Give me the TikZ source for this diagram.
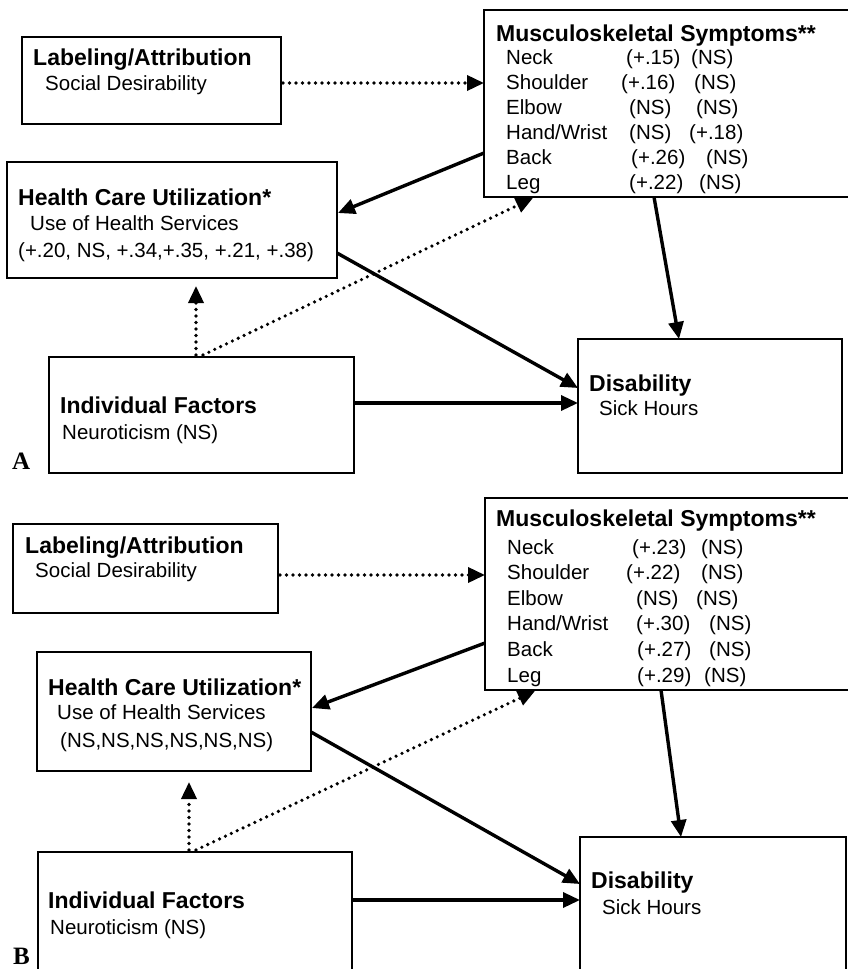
\documentclass[tikz,border=0pt]{standalone}
\usepackage{fontspec}
\setmainfont{Liberation Sans}
\newfontfamily\panelfont{Liberation Serif}
\usetikzlibrary{arrows.meta}
\begin{document}
\begin{tikzpicture}[x=1pt,y=-1pt,
  box/.style={draw, line width=1.6pt, inner sep=0pt, outer sep=0pt},
  ttl/.style={anchor=base west, inner sep=0pt, font=\fontsize{23}{27}\selectfont\bfseries},
  sub/.style={anchor=base west, inner sep=0pt, font=\fontsize{20.5}{24}\selectfont},
  panel/.style={anchor=base west, inner sep=0pt, font=\fontsize{25}{28}\panelfont\bfseries},
  solidarr/.style={line width=3.4pt, -{Triangle[length=17pt,width=15pt]}},
  dotarr/.style={line width=3.6pt, line cap=round, dash pattern=on 0pt off 6.5pt, -{Triangle[length=17pt,width=15pt]}}
]
\useasboundingbox (0,0) rectangle (848,969);
\clip (0,0) rectangle (848,969);

% ================= Panel A =================
\node[box, minimum width=259pt, minimum height=87pt] (labA) at (151.5,80.5) {};
\node[box, minimum width=370pt, minimum height=187pt] (msA) at (669,103.5) {};
\node[box, minimum width=330pt, minimum height=116pt] (hcA) at (172,220) {};
\node[box, minimum width=305pt, minimum height=116pt] (indA) at (201.5,415) {};
\node[box, minimum width=264pt, minimum height=134pt] (disA) at (710,406) {};

\node[ttl] (labAt) at (33,65) {Labeling/Attribution};
\node[sub] (labAs) at (45,90) {Social Desirability};

\node[ttl] (msAt) at (496,41) {Musculoskeletal Symptoms**};
\node[sub] (msA1) at (506,64) {Neck};
\node[sub] (msA2) at (506,89) {Shoulder};
\node[sub] (msA3) at (506,114) {Elbow};
\node[sub] (msA4) at (506,139) {Hand/Wrist};
\node[sub] (msA5) at (506,164) {Back};
\node[sub] (msA6) at (506,189) {Leg};
\node[sub] (msA1b) at (626,64) {(+.15)};
\node[sub] (msA2b) at (621,89) {(+.16)};
\node[sub] (msA3b) at (629,114) {(NS)};
\node[sub] (msA4b) at (629,139) {(NS)};
\node[sub] (msA5b) at (631,164) {(+.26)};
\node[sub] (msA6b) at (629,189) {(+.22)};
\node[sub] (msA1c) at (691,64) {(NS)};
\node[sub] (msA2c) at (694,89) {(NS)};
\node[sub] (msA3c) at (696,114) {(NS)};
\node[sub] (msA4c) at (689,139) {(+.18)};
\node[sub] (msA5c) at (706,164) {(NS)};
\node[sub] (msA6c) at (699,189) {(NS)};

\node[ttl] (hcAt) at (18,205) {Health Care Utilization*};
\node[sub] (hcAs) at (30,230) {Use of Health Services};
\node[sub] (hcAv) at (18,257) {(+.20, NS, +.34,+.35, +.21, +.38)};

\node[ttl] (indAt) at (60,413) {Individual Factors};
\node[sub] (indAs) at (62,439) {Neuroticism (NS)};

\node[ttl] (disAt) at (589,391) {Disability};
\node[sub] (disAs) at (599,415) {Sick Hours};

\node[panel] (pA) at (12,469) {A};

% connector end points, panel A
\coordinate (a1s) at (283,83);   \coordinate (a1e) at (484,83);
\coordinate (a2s) at (484,153);  \coordinate (a2e) at (338,213);
\coordinate (a3s) at (196,355);  \coordinate (a3e) at (196,286);
\coordinate (a4s) at (203,355);  \coordinate (a4e) at (533,198);
\coordinate (a5s) at (337,253);  \coordinate (a5e) at (578,388);
\coordinate (a6s) at (354,403);  \coordinate (a6e) at (578,403);
\coordinate (a7s) at (654,197);  \coordinate (a7e) at (679,339);

\draw[dotarr] (a1s) -- (a1e);
\draw[solidarr] (a2s) -- (a2e);
\draw[dotarr] (a3s) -- (a3e);
\draw[dotarr] (a4s) -- (a4e);
\draw[solidarr] (a5s) -- (a5e);
\draw[solidarr] (a6s) -- (a6e);
\draw[solidarr] (a7s) -- (a7e);

% ================= Panel B =================
\node[box, minimum width=265pt, minimum height=89pt] (labB) at (145.5,568.5) {};
\node[box, minimum width=370pt, minimum height=192pt] (msB) at (670,594) {};
\node[box, minimum width=274pt, minimum height=119pt] (hcB) at (174,711.5) {};
\node[box, minimum width=314pt, minimum height=140pt] (indB) at (195,922) {};
\node[box, minimum width=266pt, minimum height=150pt] (disB) at (713,912) {};

\node[ttl] (labBt) at (25,553) {Labeling/Attribution};
\node[sub] (labBs) at (35,577) {Social Desirability};

\node[ttl] (msBt) at (496,526) {Musculoskeletal Symptoms**};
\node[sub] (msB1) at (507,554) {Neck};
\node[sub] (msB2) at (507,579) {Shoulder};
\node[sub] (msB3) at (507,605) {Elbow};
\node[sub] (msB4) at (507,630) {Hand/Wrist};
\node[sub] (msB5) at (507,656) {Back};
\node[sub] (msB6) at (507,682) {Leg};
\node[sub] (msB1b) at (632,554) {(+.23)};
\node[sub] (msB2b) at (626,579) {(+.22)};
\node[sub] (msB3b) at (636,605) {(NS)};
\node[sub] (msB4b) at (636,630) {(+.30)};
\node[sub] (msB5b) at (637,656) {(+.27)};
\node[sub] (msB6b) at (637,682) {(+.29)};
\node[sub] (msB1c) at (701,554) {(NS)};
\node[sub] (msB2c) at (701,579) {(NS)};
\node[sub] (msB3c) at (696,605) {(NS)};
\node[sub] (msB4c) at (709,630) {(NS)};
\node[sub] (msB5c) at (709,656) {(NS)};
\node[sub] (msB6c) at (704,682) {(NS)};

\node[ttl] (hcBt) at (48,695) {Health Care Utilization*};
\node[sub] (hcBs) at (57,719) {Use of Health Services};
\node[sub] (hcBv) at (60,747) {(NS,NS,NS,NS,NS,NS)};

\node[ttl] (indBt) at (48,908) {Individual Factors};
\node[sub] (indBs) at (50,934) {Neuroticism (NS)};

\node[ttl] (disBt) at (591,888) {Disability};
\node[sub] (disBs) at (602,914) {Sick Hours};

\node[panel] (pB) at (13,964) {B};

% connector end points, panel B
\coordinate (b1s) at (280,575);  \coordinate (b1e) at (485,575);
\coordinate (b2s) at (485,643);  \coordinate (b2e) at (312,708);
\coordinate (b3s) at (189,850);  \coordinate (b3e) at (189,782);
\coordinate (b4s) at (196,850);  \coordinate (b4e) at (535,691);
\coordinate (b5s) at (311,732);  \coordinate (b5e) at (580,884);
\coordinate (b6s) at (352,900);  \coordinate (b6e) at (580,900);
\coordinate (b7s) at (661,690);  \coordinate (b7e) at (681,837);

\draw[dotarr] (b1s) -- (b1e);
\draw[solidarr] (b2s) -- (b2e);
\draw[dotarr] (b3s) -- (b3e);
\draw[dotarr] (b4s) -- (b4e);
\draw[solidarr] (b5s) -- (b5e);
\draw[solidarr] (b6s) -- (b6e);
\draw[solidarr] (b7s) -- (b7e);
\end{tikzpicture}
\end{document}
